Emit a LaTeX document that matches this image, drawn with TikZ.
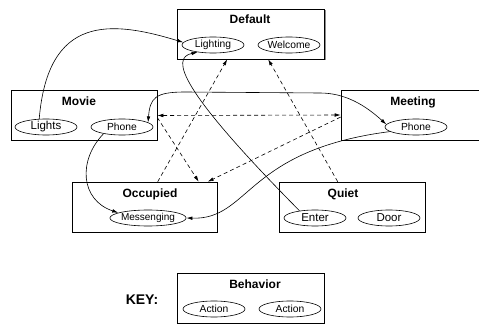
\documentclass[tikz,border=0pt]{standalone}
\usepackage{fontspec}
\setmainfont{Liberation Sans}
\usetikzlibrary{shapes.geometric,arrows.meta,shadows}
\begin{document}
\begin{tikzpicture}[x=1pt,y=-1pt,
  >={Latex[length=6pt,width=3.6pt]},
  behavior/.style={draw=black, line width=0.6pt, fill=white, minimum width=147pt, minimum height=50pt, inner sep=0pt,
    drop shadow={shadow xshift=1pt, shadow yshift=-1pt, fill=black!45, opacity=1}},
  title/.style={font=\fontsize{12}{14}\selectfont\bfseries, inner sep=0pt, anchor=base},
  action/.style={draw, ellipse, line width=0.6pt, minimum width=62pt, minimum height=16pt, inner sep=0pt, font=\fontsize{10.3}{12}\selectfont},
  bigact/.style={action, font=\fontsize{11.5}{13}\selectfont},
  conn/.style={line width=0.6pt},
  dconn/.style={line width=0.6pt, dash pattern=on 4pt off 3pt}
]
\useasboundingbox (0,0) rectangle (479,326);
\clip (0,0) rectangle (479,326);

% behavior boxes
\node[behavior] (default) at (251,34) {};
\node[behavior, minimum width=146pt] (movie) at (84,115.5) {};
\node[behavior, minimum width=150pt] (meeting) at (416,115) {};
\node[behavior, minimum width=145pt] (occupied) at (144.5,207) {};
\node[behavior, minimum width=146pt] (quiet) at (352,207) {};
\node[behavior] (keybox) at (250.5,298) {};

% titles
\node[title] (tdefault) at (250,24) {Default};
\node[title] (tmovie) at (79,106) {Movie};
\node[title] (tmeeting) at (413,106) {Meeting};
\node[title] (toccupied) at (150,197) {Occupied};
\node[title] (tquiet) at (343,197) {Quiet};
\node[title] (tbehavior) at (255,288) {Behavior};
\node[font=\fontsize{14}{16}\selectfont\bfseries, inner sep=0pt] (keylabel) at (142,300) {KEY:};

% actions
\node[action] (lighting) at (213,45) {Lighting};
\node[action] (welcome) at (289,45) {Welcome};
\node[bigact] (lights) at (46,127) {Lights};
\node[action] (mphone) at (122,127) {Phone};
\node[action] (tphone) at (416,127) {Phone};
\node[action, minimum width=76pt, font=\fontsize{10}{12}\selectfont] (msg) at (148,218) {Messenging};
\node[bigact] (enter) at (315,218) {Enter};
\node[bigact] (door) at (389,218) {Door};
\node[action] (act1) at (214,309) {Action};
\node[action] (act2) at (290,309) {Action};

% solid connectors
\draw[conn,->] (lights.130) .. controls (48,15) and (110,20) .. (lighting.175);
\draw[conn,->] (enter.155) .. controls (180,90) and (170,58) .. (lighting.205);
\draw[conn,->] (tphone.190) .. controls (245,150) and (250,220) .. (msg.east);
\draw[conn,->] (mphone.200) .. controls (78,160) and (80,200) .. (msg.170);
\draw[conn,<->] (mphone.10) .. controls (150,98) and (155,92) .. (185,92)
   -- (320,93) .. controls (345,93) and (365,105) .. (tphone.175);

% dashed connectors
\draw[dconn,<->] (movie.east) -- (meeting.west);
\draw[dconn,->] ([xshift=86pt]occupied.north west) -- ([xshift=50pt]default.south west);
\draw[dconn,->] ([yshift=-2pt]movie.east) -- ([xshift=127pt]occupied.north west);
\draw[dconn,->] ([yshift=-2pt]meeting.west) -- ([xshift=136pt]occupied.north west);
\draw[dconn,->] ([xshift=59pt]quiet.north west) -- ([xshift=91pt]default.south west);
\end{tikzpicture}
\end{document}
